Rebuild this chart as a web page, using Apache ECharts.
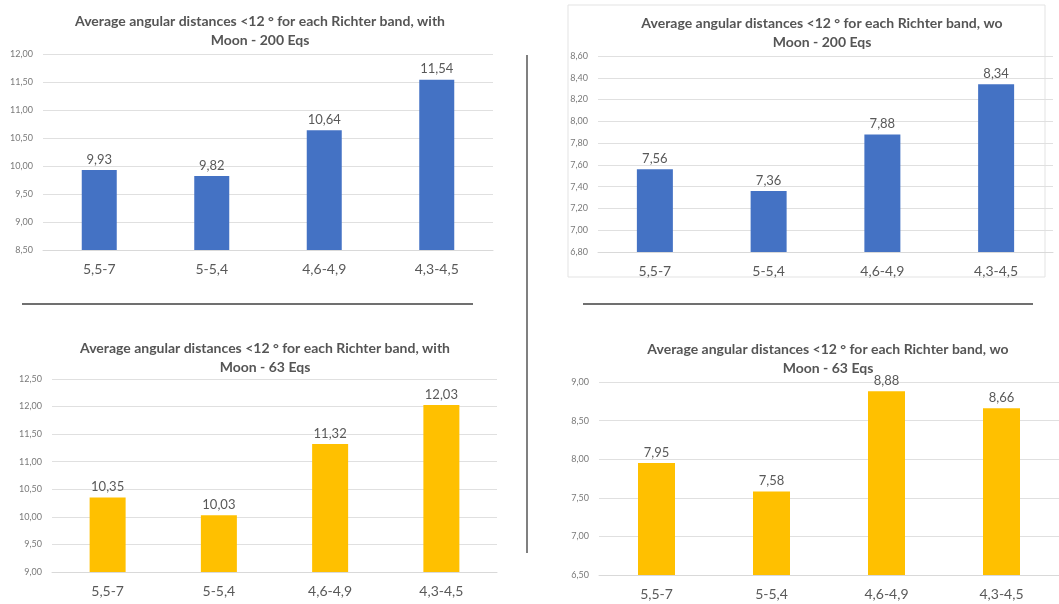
<!DOCTYPE html>
<html>
<head>
<meta charset="utf-8">
<style>
  html, body { margin: 0; padding: 0; background: #ffffff; }
  #main { width: 1059px; height: 604px; }
</style>
<script src="https://cdn.jsdelivr.net/npm/echarts@6/dist/echarts.min.js"></script>
</head>
<body>
<div id="main"></div>
<script>
// categories (Richter bands)
var bands = ['5,5-7', '5-5,4', '4,6-4,9', '4,3-4,5'];

// series values
var withMoon200 = [9.93, 9.82, 10.64, 11.54];
var woMoon200 = [7.56, 7.36, 7.88, 8.34];
var withMoon63 = [10.35, 10.03, 11.32, 12.03];
var woMoon63 = [7.95, 7.58, 8.88, 8.66];

var titles = [
  'Average angular distances <12 ° for each Richter band, with\nMoon - 200 Eqs',
  'Average angular distances <12 ° for each Richter band, wo\nMoon - 200 Eqs',
  'Average angular distances <12 ° for each Richter band, with\nMoon - 63 Eqs',
  'Average angular distances <12 ° for each Richter band, wo\nMoon - 63 Eqs'
];

var FONT = 'Lato, "Open Sans", sans-serif';
var blue = '#4472C4';
var gold = '#FFC000';

function comma(v) {
  return Number(v).toFixed(2).replace('.', ',');
}

var chart = echarts.init(document.getElementById('main'), null, { renderer: 'canvas' });

// one layout entry per panel
var panels = [
  { data: withMoon200, color: blue, min: 8.5, max: 12, step: 0.5, grid: { left: 43, top: 54, width: 450, height: 196 }, title: { x: 255, y: 7 }, bw: 35 },
  { data: woMoon200, color: blue, min: 6.8, max: 8.6, step: 0.2, grid: { left: 598, top: 56, width: 455, height: 196 }, title: { x: 817, y: 9 }, bw: 36 },
  { data: withMoon63, color: gold, min: 9, max: 12.5, step: 0.5, grid: { left: 52, top: 379, width: 445, height: 193 }, title: { x: 260, y: 334 }, bw: 36 },
  { data: woMoon63, color: gold, min: 6.5, max: 9, step: 0.5, grid: { left: 599, top: 382, width: 470, height: 193 }, title: { x: 823, y: 335 }, bw: 37 }
];

var option = {
  backgroundColor: '#ffffff',
  animation: false,
  title: [],
  grid: [],
  xAxis: [],
  yAxis: [],
  series: [],
  graphic: [
    // frame around the top-right chart
    { type: 'rect', shape: { x: 568, y: 5, width: 477, height: 272 }, style: { fill: 'none', stroke: '#e3e3e3', lineWidth: 1 }, z: 0 },
    // separators
    { type: 'line', shape: { x1: 527, y1: 55, x2: 527, y2: 553 }, style: { stroke: '#808080', lineWidth: 2 } },
    { type: 'line', shape: { x1: 22, y1: 304, x2: 473, y2: 304 }, style: { stroke: '#707070', lineWidth: 2 } },
    { type: 'line', shape: { x1: 583, y1: 304, x2: 1033, y2: 304 }, style: { stroke: '#707070', lineWidth: 2 } }
  ]
};

panels.forEach(function (p, i) {
  option.title.push({
    text: titles[i],
    left: p.title.x,
    top: p.title.y,
    textAlign: 'center',
    textStyle: { fontFamily: FONT, fontSize: 14, fontWeight: 'bold', color: '#555555', lineHeight: 19 }
  });
  option.grid.push({ left: p.grid.left, top: p.grid.top, width: p.grid.width, height: p.grid.height, containLabel: false });
  option.xAxis.push({
    type: 'category',
    gridIndex: i,
    data: bands,
    axisLine: { show: true, lineStyle: { color: '#d9d9d9' } },
    axisTick: { show: false },
    axisLabel: { margin: 12, fontFamily: FONT, fontSize: 14, color: '#595959' }
  });
  option.yAxis.push({
    type: 'value',
    gridIndex: i,
    min: p.min,
    max: p.max,
    interval: p.step,
    axisLine: { show: false },
    axisTick: { show: false },
    splitLine: { lineStyle: { color: '#e0e0e0' } },
    axisLabel: { margin: 10, fontFamily: FONT, fontSize: 9, color: '#7a7a7a', formatter: comma }
  });
  option.series.push({
    type: 'bar',
    xAxisIndex: i,
    yAxisIndex: i,
    data: p.data,
    barWidth: p.bw,
    itemStyle: { color: p.color },
    label: { show: true, position: 'top', distance: 4, fontFamily: FONT, fontSize: 13, color: '#595959', formatter: function (d) { return comma(d.value); } }
  });
});

chart.setOption(option);
</script>
</body>
</html>
